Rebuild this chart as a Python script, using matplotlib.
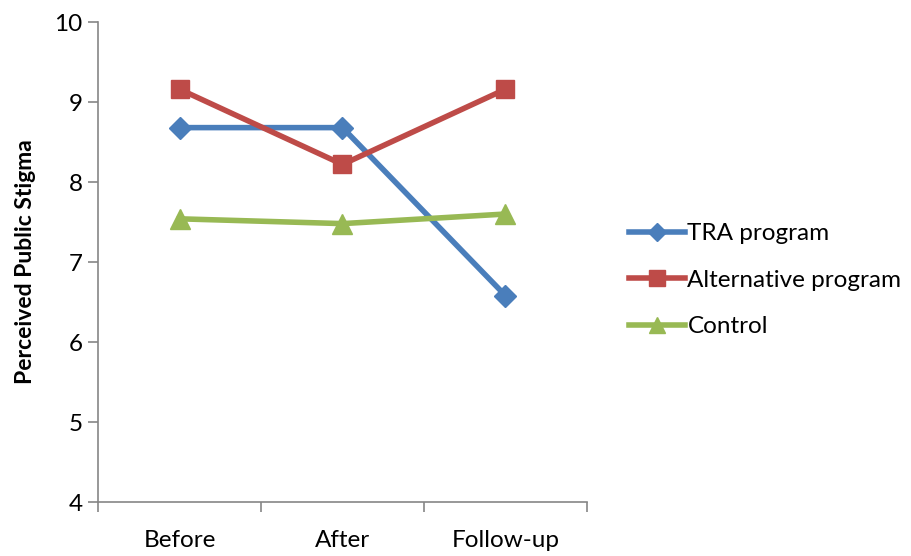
import matplotlib.pyplot as plt

# stigma scores per time point
phases = ["Before", "After", "Follow-up"]
tra = [8.68, 8.68, 6.58]
alternative = [9.16, 8.22, 9.16]
control = [7.54, 7.48, 7.60]

plt.rcParams['font.family'] = ['Lato', 'DejaVu Sans']
grey = "#868686"

fig = plt.figure(figsize=(9.11, 5.56), dpi=100, facecolor="white")
ax = fig.add_axes([0.1076, 0.0971, 0.5367, 0.8633])

xs = range(len(phases))
ax.plot(xs, tra, color="#4A7EBB", lw=4, marker="D", ms=11, label="TRA program")
ax.plot(xs, alternative, color="#BE4B48", lw=4, marker="s", ms=13, label="Alternative program")
ax.plot(xs, control, color="#98B954", lw=4, marker="^", ms=14, label="Control")

ax.set_xlim(-0.5, 2.5)
ax.set_ylim(4, 10)
ax.set_yticks(range(4, 11))
ax.set_xticks(list(xs))
ax.set_xticklabels(phases)
ax.set_xticks([-0.5, 0.5, 1.5, 2.5], minor=True)
ax.tick_params(axis="x", which="major", length=0, pad=20, labelsize=17.5)
ax.tick_params(axis="x", which="minor", length=7, color=grey, width=1.2, direction="out")
ax.tick_params(axis="y", length=7, color=grey, width=1.2, labelsize=17.5, pad=4)

for s in ["top", "right"]:
    ax.spines[s].set_visible(False)
for s in ["left", "bottom"]:
    ax.spines[s].set_color(grey)
    ax.spines[s].set_linewidth(1.2)

ax.set_ylabel("Perceived Public Stigma", fontsize=16.5, fontweight="bold", labelpad=13)

leg = fig.legend(loc="center left", bbox_to_anchor=(0.666, 0.496), frameon=False,
                 fontsize=17.5, handlelength=2.3, handletextpad=0.12, labelspacing=1.05,
                 markerscale=0.85)

fig.savefig("out.png", dpi=100)
